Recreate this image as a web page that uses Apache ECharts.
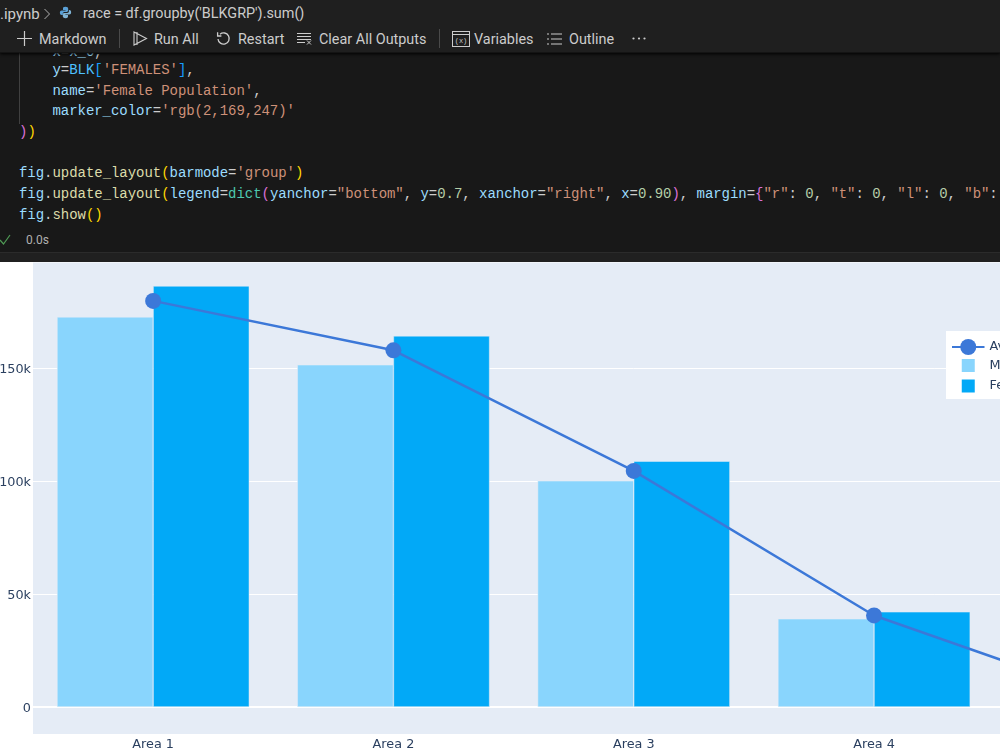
<!DOCTYPE html>
<html>
<head>
<meta charset="utf-8">
<title>Population by area</title>
<script src="https://cdn.jsdelivr.net/npm/echarts@6/dist/echarts.min.js"></script>
<style>
  html, body { margin: 0; padding: 0; width: 1000px; height: 750px; overflow: hidden; background: #fff; }
  #editor { position: absolute; left: 0; top: 0; width: 1000px; height: 262px; background: #181818; overflow: hidden; }
  #toolbar { position: absolute; left: 0; top: 0; width: 1000px; height: 52px; background: #1f1f1f; border-bottom: 1px solid #141414; box-shadow: 0 1px 3px #000; z-index: 2; }
  #cellfoot { position: absolute; left: 0; top: 252px; width: 1000px; height: 10px; background: #202020; border-top: 1px solid #2b2b2b; }
  #indent { position: absolute; left: 19px; top: 52px; width: 1px; height: 72px; background: #404040; }
  .ui { position: absolute; font: 14.4px Roboto, sans-serif; color: #cccccc; white-space: nowrap; line-height: 20px; }
  .sep { position: absolute; top: 29px; width: 1px; height: 19px; background: #4a4a4a; }
  .ico { position: absolute; }
  .code { position: absolute; left: 19px; font: 14px "Liberation Mono", monospace; letter-spacing: -0.04px; line-height: 20px; white-space: pre; color: #cccccc; }
  .v { color: #9cdcfe; } .c { color: #4fc1ff; } .s { color: #ce9178; } .f { color: #dcdcaa; }
  .t { color: #4ec9b0; } .n { color: #b5cea8; } .g { color: #ffd700; } .p { color: #da70d6; } .b { color: #179fff; }
  #chart { position: absolute; left: 0; top: 262px; width: 1240px; height: 488px; }
</style>
</head>
<body>
<div id="editor">
  <div class="code" style="top:42px"><span class="v">    x</span>=<span class="v">x_0</span>,</div>
  <div id="indent"></div>
  <div class="code" style="top:60px">    <span class="v">y</span>=<span class="c">BLK</span><span class="b">[</span><span class="s">'FEMALES'</span><span class="b">]</span>,</div>
  <div class="code" style="top:81px">    <span class="v">name</span>=<span class="s">'Female Population'</span>,</div>
  <div class="code" style="top:101px">    <span class="v">marker_color</span>=<span class="s">'rgb(2,169,247)'</span></div>
  <div class="code" style="top:122px"><span class="p">)</span><span class="g">)</span></div>
  <div class="code" style="top:163px"><span class="v">fig</span>.<span class="f">update_layout</span><span class="g">(</span><span class="v">barmode</span>=<span class="s">'group'</span><span class="g">)</span></div>
  <div class="code" style="top:184px"><span class="v">fig</span>.<span class="f">update_layout</span><span class="g">(</span><span class="v">legend</span>=<span class="t">dict</span><span class="p">(</span><span class="v">yanchor</span>=<span class="s">"bottom"</span>, <span class="v">y</span>=<span class="n">0.7</span>, <span class="v">xanchor</span>=<span class="s">"right"</span>, <span class="v">x</span>=<span class="n">0.90</span><span class="p">)</span>, <span class="v">margin</span>=<span class="p">{</span><span class="s">"r"</span>: <span class="n">0</span>, <span class="s">"t"</span>: <span class="n">0</span>, <span class="s">"l"</span>: <span class="n">0</span>, <span class="s">"b"</span>: <span class="n">0</span><span class="p">}</span><span class="g">)</span></div>
  <div class="code" style="top:205px"><span class="v">fig</span>.<span class="f">show</span><span class="g">()</span></div>

  <svg class="ico" style="left:0;top:233px" width="12" height="14" viewBox="0 0 12 14"><path d="M0 7 L3.5 11 L10 2" fill="none" stroke="#4f9a55" stroke-width="1.2"/></svg>
  <div class="ui" style="left:26px;top:230px;font-size:12px;color:#b0b0b0">0.0s</div>
  <div id="cellfoot"></div>

  <div id="toolbar">
    <div class="ui" style="left:0;top:4px;font-size:15px">.ipynb</div>
    <svg class="ico" style="left:43px;top:8px" width="8" height="12" viewBox="0 0 8 12"><path d="M1.5 1 L6.5 6 L1.5 11" fill="none" stroke="#b0b0b0" stroke-width="1"/></svg>
    <svg class="ico" style="left:59px;top:6px" width="13" height="13" viewBox="0 0 15 15"><path d="M7.4 1 C4.8 1 4.6 2 4.6 3.2 V4.6 H7.6 V5.2 H3.2 C1.8 5.2 1 6.2 1 7.8 C1 9.4 1.8 10.4 3.1 10.4 H4.4 V8.8 C4.4 7.6 5.4 6.8 6.4 6.8 H9 C10 6.8 10.6 6 10.6 5 V3.2 C10.6 2 9.8 1 7.4 1 Z" fill="#5aa0d6"/><path d="M7.6 14 C10.2 14 10.4 13 10.4 11.8 V10.4 H7.4 V9.8 H11.8 C13.2 9.8 14 8.8 14 7.2 C14 5.6 13.2 4.6 11.9 4.6 H11.4 V6.2 C11.4 7.4 10.4 8.2 9.4 8.2 H6 C5 8.2 4.4 9 4.4 10 V11.8 C4.4 13 5.2 14 7.6 14 Z" fill="#7fb3d5"/></svg>
    <div class="ui" style="left:83px;top:4px">race = df.groupby('BLKGRP').sum()</div>

    <svg class="ico" style="left:17px;top:31px" width="15" height="15" viewBox="0 0 15 15"><path d="M7.5 0 V15 M0 7.5 H15" stroke="#cccccc" stroke-width="1.2"/></svg>
    <div class="ui" style="left:39px;top:30px">Markdown</div>
    <div class="sep" style="left:119px"></div>
    <svg class="ico" style="left:133px;top:31px" width="15" height="15" viewBox="0 0 15 15"><path d="M1 1 L13.5 7.5 L1 14 Z M4 1 V14" fill="none" stroke="#cccccc" stroke-width="1.1"/></svg>
    <div class="ui" style="left:154px;top:30px">Run All</div>
    <svg class="ico" style="left:216px;top:31px" width="15" height="15" viewBox="0 0 15 15"><path d="M4 3.2 A5.6 5.6 0 1 1 2 8 M1.6 1.2 V5 H5.4" fill="none" stroke="#cccccc" stroke-width="1.3"/></svg>
    <div class="ui" style="left:238px;top:30px">Restart</div>
    <svg class="ico" style="left:297px;top:32px" width="15" height="14" viewBox="0 0 15 14"><path d="M0 1.5 H14 M0 4.5 H14 M0 7.5 H14 M0 10.5 H8 M10 8.5 L14 12.5 M14 8.5 L10 12.5" stroke="#cccccc" stroke-width="1"/></svg>
    <div class="ui" style="left:319px;top:30px">Clear All Outputs</div>
    <div class="sep" style="left:439px"></div>
    <svg class="ico" style="left:452px;top:31px" width="18" height="16" viewBox="0 0 18 16"><rect x="0.5" y="0.5" width="17" height="15" fill="none" stroke="#cccccc"/><path d="M0.5 3.5 H17.5" stroke="#cccccc"/><text x="9" y="12" font-size="7" fill="#cccccc" text-anchor="middle" font-family="Liberation Mono">(x)</text></svg>
    <div class="ui" style="left:474px;top:30px">Variables</div>
    <svg class="ico" style="left:547px;top:32px" width="15" height="14" viewBox="0 0 15 14"><path d="M0 2 H2 M4 2 H15 M0 7 H2 M4 7 H15 M0 12 H2 M4 12 H15" stroke="#cccccc" stroke-width="1.1"/></svg>
    <div class="ui" style="left:569px;top:30px">Outline</div>
    <svg class="ico" style="left:632px;top:37px" width="14" height="3" viewBox="0 0 14 3"><circle cx="1.5" cy="1.5" r="1.1" fill="#cccccc"/><circle cx="7" cy="1.5" r="1.1" fill="#cccccc"/><circle cx="12.5" cy="1.5" r="1.1" fill="#cccccc"/></svg>
  </div>
</div>

<div id="chart"></div>

<script>
  const categories = ['Area 1', 'Area 2', 'Area 3', 'Area 4', 'Area 5'];
  const averagePopulation = [179800, 157900, 104500, 40500, 3300];
  const malePopulation = [172700, 151500, 100100, 39000, 3100];
  const femalePopulation = [186400, 164300, 108800, 42100, 3500];
  const yTicks = [0, 50000, 100000, 150000];

  const axisInk = '#2a3f5f';
  const axisFont = 'DejaVu Sans';
  // Zero-length segments widen the icon's box so the square sits inset in the legend key.
  const squareIcon = 'path://M0 0L0 0M20 20L20 20M3.5 3.5H16.5V16.5H3.5Z';

  const chart = echarts.init(document.getElementById('chart'), null, { renderer: 'canvas' });
  chart.setOption({
    animation: false,
    backgroundColor: '#ffffff',
    grid: {
      show: true, backgroundColor: '#E5ECF6', borderWidth: 0,
      outerBoundsMode: 'none',
      left: 33, top: 0.5, width: 1201.5, height: 471.5
    },
    legend: {
      orient: 'vertical', left: 946, top: 69,
      padding: [8, 8, 3, 5], itemGap: 0.5, itemWidth: 32.5, itemHeight: 20,
      backgroundColor: '#ffffff',
      textStyle: { color: axisInk, fontFamily: axisFont, fontSize: 12.8 },
      data: [
        { name: 'Average' },
        { name: 'Male Population', icon: squareIcon, itemStyle: { borderWidth: 0 } },
        { name: 'Female Population', icon: squareIcon, itemStyle: { borderWidth: 0 } }
      ]
    },
    xAxis: [
      {
        type: 'category', data: categories, position: 'bottom',
        axisLine: { show: false, onZero: false },
        axisTick: { show: false },
        splitLine: { show: false },
        axisLabel: { color: axisInk, fontFamily: axisFont, fontSize: 12.8, margin: 4 }
      },
      {
        // Heavier white rule along y = 0.
        type: 'category', data: categories,
        axisLine: { show: true, onZero: true, lineStyle: { color: '#ffffff', width: 2 } },
        axisTick: { show: false },
        axisLabel: { show: false },
        splitLine: { show: false }
      }
    ],
    yAxis: {
      type: 'value', min: -12000, max: 196800,
      axisLine: { show: false },
      axisTick: { show: false, customValues: yTicks },
      splitLine: { show: true, lineStyle: { color: '#ffffff', width: 1 } },
      axisLabel: {
        customValues: yTicks,
        margin: 2,
        rich: { tick: { color: axisInk, fontFamily: axisFont, fontSize: 12.8, padding: [3, 0, 0, 0] } },
        formatter: v => '{tick|' + (v === 0 ? '0' : (v / 1000) + 'k') + '}'
      }
    },
    series: [
      {
        name: 'Male Population', type: 'bar', data: malePopulation,
        barGap: 0, barCategoryGap: '20%',
        itemStyle: { color: 'rgb(137,213,253)', borderColor: '#E5ECF6', borderWidth: 0.5 }
      },
      {
        name: 'Female Population', type: 'bar', data: femalePopulation,
        itemStyle: { color: 'rgb(2,169,247)', borderColor: '#E5ECF6', borderWidth: 0.5 }
      },
      {
        name: 'Average', type: 'line', data: averagePopulation, z: 5,
        symbol: 'circle', symbolSize: 16,
        itemStyle: { color: '#3c78d8' },
        lineStyle: { color: '#3c78d8', width: 2.5 }
      }
    ]
  });
</script>
</body>
</html>
